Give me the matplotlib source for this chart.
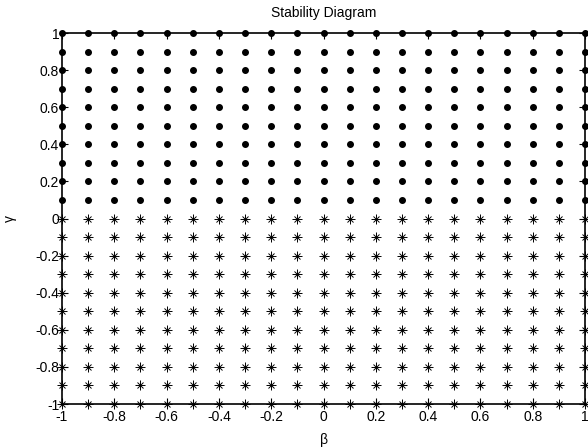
import matplotlib
matplotlib.use("Agg")
import matplotlib.pyplot as plt
from matplotlib.ticker import FormatStrFormatter

plt.rcParams['font.family'] = ['Liberation Sans', 'DejaVu Sans']
plt.rcParams['axes.unicode_minus'] = False

# grid of beta values (same for every row)
beta = [-1.0, -0.9, -0.8, -0.7, -0.6, -0.5, -0.4, -0.3, -0.2, -0.1, 0.0,
        0.1, 0.2, 0.3, 0.4, 0.5, 0.6, 0.7, 0.8, 0.9, 1.0]
# gamma rows drawn as dots (stable) and asterisks (unstable)
gamma_dot = [0.1, 0.2, 0.3, 0.4, 0.5, 0.6, 0.7, 0.8, 0.9, 1.0]
gamma_star = [-1.0, -0.9, -0.8, -0.7, -0.6, -0.5, -0.4, -0.3, -0.2, -0.1, 0.0]

xticks = [-1, -0.8, -0.6, -0.4, -0.2, 0, 0.2, 0.4, 0.6, 0.8, 1]
yticks = [-1, -0.8, -0.6, -0.4, -0.2, 0, 0.2, 0.4, 0.6, 0.8, 1]

fig = plt.figure(figsize=(5.88, 4.48), dpi=100)
ax = fig.add_axes([0.1054, 0.0982, 0.8896, 0.8281])

for g in gamma_dot:
    ax.plot(beta, [g] * len(beta), linestyle='none', marker='o', ms=4.0,
            color='black', clip_on=False, zorder=3)
for g in gamma_star:
    ax.plot(beta, [g] * len(beta), linestyle='none', marker='+', ms=7.5,
            mew=0.7, color='black', clip_on=False, zorder=3)
    ax.plot(beta, [g] * len(beta), linestyle='none', marker='x', ms=4.5,
            mew=0.7, color='black', clip_on=False, zorder=3)

ax.set_xlim(-1, 1)
ax.set_ylim(-1, 1)
ax.set_xticks(xticks)
ax.set_yticks(yticks)
ax.xaxis.set_major_formatter(FormatStrFormatter('%g'))
ax.yaxis.set_major_formatter(FormatStrFormatter('%g'))
ax.tick_params(direction='in', length=4, width=0.8, labelsize=10,
               top=True, right=True)
ax.tick_params(axis='x', pad=4.5)
ax.tick_params(axis='y', pad=2)
for s in ax.spines.values():
    s.set_linewidth(1.2)

ax.set_title('Stability Diagram', fontsize=10, pad=11.5)
ax.set_xlabel('β', fontsize=10, labelpad=6)
ax.set_ylabel('γ', fontsize=10, labelpad=13)

fig.savefig('out.png', dpi=100)
